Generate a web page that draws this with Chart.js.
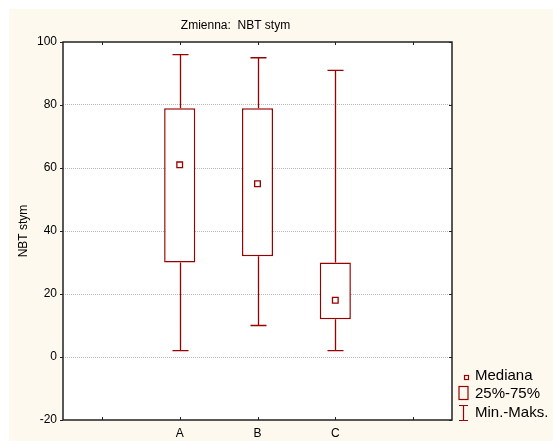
<!DOCTYPE html>
<html>
<head>
<meta charset="utf-8">
<script src="https://cdn.jsdelivr.net/npm/chart.js@4.4.1/dist/chart.umd.min.js"></script>
<style>
  html, body { margin: 0; padding: 0; background: #fff; }
  #wrap { width: 553px; height: 441px; }
</style>
</head>
<body>
<div id="wrap"><canvas id="myChart" width="553" height="441"></canvas></div>
<script>
// box plot values
const categories = ['', 'A', 'B', 'C', ''];
const mins    = [null, 2, 10, 2, null];
const q1s     = [null, 30, 32, 12, null];
const medians = [null, 61, 55, 18, null];
const q3s     = [null, 79, 79, 30, null];
const maxs    = [null, 96, 95, 91, null];
const yTicks  = [-20, 0, 20, 40, 60, 80, 100];

const titleText = 'Zmienna:  NBT stym';
const legendItems = ['Mediana', '25%-75%', 'Min.-Maks.'];

const red = '#990000';
const cream = '#FDF9EE';

const frame = {
	id: 'frame',
	beforeDraw(chart) {
		const ctx = chart.ctx;
		const a = chart.chartArea;
		ctx.save();
		ctx.fillStyle = '#fff';
		ctx.fillRect(0, 0, chart.width, chart.height);
		ctx.fillStyle = cream;
		ctx.fillRect(9, 9, chart.width - 9, chart.height - 9);
		ctx.fillStyle = '#fff';
		ctx.fillRect(a.left, a.top, a.right - a.left, a.bottom - a.top);
		ctx.restore();
	},
	afterDraw(chart) {
		const ctx = chart.ctx;
		const a = chart.chartArea;
		const x = chart.scales.x;
		const y = chart.scales.y;
		ctx.save();
		// title
		ctx.fillStyle = '#000';
		ctx.font = '12px Arial, "Liberation Sans", sans-serif';
		ctx.textAlign = 'center';
		ctx.textBaseline = 'middle';
		ctx.fillText(titleText, 235.5, 26);

		// axis frame
		ctx.strokeStyle = '#222';
		ctx.lineWidth = 1.5;
		ctx.strokeRect(a.left, a.top, a.right - a.left, a.bottom - a.top);

		// tick marks
		ctx.lineWidth = 1;
		ctx.beginPath();
		yTicks.forEach(v => {
			const py = Math.round(y.getPixelForValue(v)) + 0.5;
			ctx.moveTo(a.left - 3, py); ctx.lineTo(a.left, py);
			ctx.moveTo(a.right - 3, py); ctx.lineTo(a.right, py);
		});
		categories.forEach((c, i) => {
			const px = Math.round(x.getPixelForValue(i)) + 0.5;
			ctx.moveTo(px, a.bottom - 3); ctx.lineTo(px, a.bottom);
			ctx.moveTo(px, a.top); ctx.lineTo(px, a.top + 3);
		});
		ctx.stroke();

		// legend
		const lx = 475;
		ctx.font = '15px Arial, "Liberation Sans", sans-serif';
		ctx.textAlign = 'left';
		ctx.fillStyle = '#000';
		ctx.fillText(legendItems[0], lx, 375.5);
		ctx.fillText(legendItems[1], lx, 393.5);
		ctx.fillText(legendItems[2], lx, 413);
		ctx.strokeStyle = red;
		ctx.lineWidth = 1.2;
		ctx.strokeRect(464.5, 375.5, 4, 4);
		ctx.strokeRect(459, 386.5, 9, 13);
		ctx.beginPath();
		ctx.moveTo(463.5, 405.5); ctx.lineTo(463.5, 420.5);
		ctx.moveTo(459, 405.5); ctx.lineTo(468, 405.5);
		ctx.moveTo(459, 420.5); ctx.lineTo(468, 420.5);
		ctx.stroke();
		ctx.restore();
	}
};

const whiskers = {
	id: 'whiskers',
	beforeDatasetsDraw(chart) {
		const ctx = chart.ctx;
		const x = chart.scales.x;
		const y = chart.scales.y;
		ctx.save();
		ctx.strokeStyle = red;
		ctx.lineWidth = 1.3;
		ctx.beginPath();
		for (let i = 0; i < categories.length; i++) {
			if (mins[i] == null) continue;
			const px = Math.round(x.getPixelForValue(i)) + 0.5;
			const yMin = y.getPixelForValue(mins[i]);
			const yMax = y.getPixelForValue(maxs[i]);
			ctx.moveTo(px, yMax); ctx.lineTo(px, y.getPixelForValue(q3s[i]));
			ctx.moveTo(px, yMin); ctx.lineTo(px, y.getPixelForValue(q1s[i]));
			ctx.moveTo(px - 8, yMax); ctx.lineTo(px + 8, yMax);
			ctx.moveTo(px - 8, yMin); ctx.lineTo(px + 8, yMin);
		}
		ctx.stroke();
		ctx.restore();
	}
};

const ctx = document.getElementById('myChart').getContext('2d');
new Chart(ctx, {
	data: {
		labels: categories,
		datasets: [{
			type: 'bar',
			data: q1s.map((v, i) => v == null ? null : [v, q3s[i]]),
			backgroundColor: '#fff',
			borderColor: red,
			borderWidth: 1.5,
			borderSkipped: false,
			categoryPercentage: 1,
			barPercentage: 0.4,
			order: 2
		}, {
			type: 'line',
			data: medians,
			showLine: false,
			pointStyle: 'rect',
			pointRadius: 4,
			pointBorderWidth: 1.3,
			pointBackgroundColor: '#fff',
			pointBorderColor: red,
			order: 1
		}]
	},
	options: {
		responsive: false,
		animation: false,
		layout: { padding: { top: 42, right: 101, left: 0, bottom: 0 } },
		plugins: {
			legend: { display: false },
			tooltip: { enabled: false },
			title: { display: false }
		},
		scales: {
			x: {
				offset: true,
				grid: { display: false, drawTicks: false },
				border: { display: false },
				ticks: {
					color: '#000',
					padding: 6,
					font: { family: 'Arial, "Liberation Sans", sans-serif', size: 12 }
				},
				afterFit(scale) { scale.height = 21; }
			},
			y: {
				min: -20,
				max: 100,
				afterBuildTicks(scale) { scale.ticks = yTicks.map(v => ({ value: v })); },
				grid: {
					drawTicks: false,
					color: c => (c.tick && (c.tick.value === -20 || c.tick.value === 100)) ? 'transparent' : '#b8b8b8',
					lineWidth: 1
				},
				border: { display: false, dash: [1, 1] },
				ticks: {
					color: '#000',
					padding: 6,
					font: { family: 'Arial, "Liberation Sans", sans-serif', size: 12 }
				},
				title: {
					display: true,
					text: 'NBT stym',
					color: '#000',
					font: { family: 'Arial, "Liberation Sans", sans-serif', size: 12 },
					padding: { top: 16, bottom: 0 }
				},
				afterFit(scale) { scale.width = 63; }
			}
		}
	},
	plugins: [frame, whiskers]
});
</script>
</body>
</html>
